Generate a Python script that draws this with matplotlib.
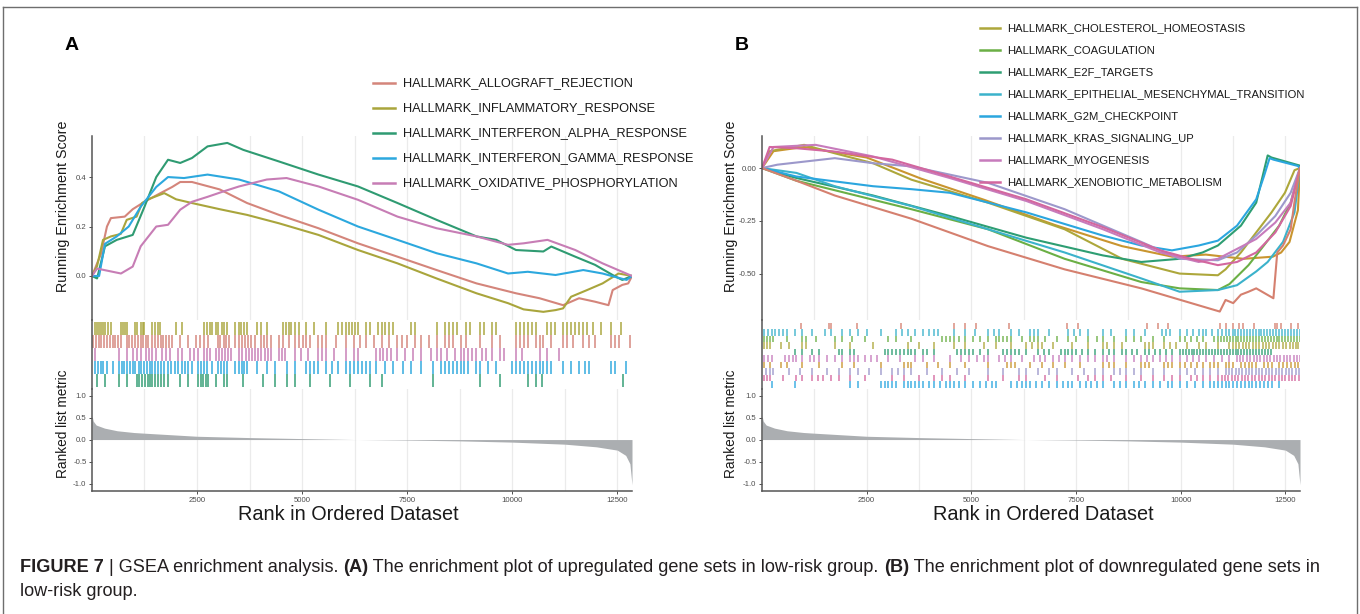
import matplotlib
matplotlib.use("Agg")
import matplotlib.pyplot as plt
from matplotlib.lines import Line2D
from matplotlib import font_manager as fm

W, H = 1360, 614
fig = plt.figure(figsize=(W / 100, H / 100), dpi=100)
plt.rcParams['font.family'] = ['Liberation Sans', 'DejaVu Sans']

# ---------------- data: panel A ----------------
A_names = ["HALLMARK_ALLOGRAFT_REJECTION", "HALLMARK_INFLAMMATORY_RESPONSE",
           "HALLMARK_INTERFERON_ALPHA_RESPONSE", "HALLMARK_INTERFERON_GAMMA_RESPONSE",
           "HALLMARK_OXIDATIVE_PHOSPHORYLATION"]
A_colors = ["#D4857B", "#A9A53C", "#2F9B72", "#2CA8DE", "#C77DB5"]

A_ALLO_rank = [1, 216, 357, 451, 780, 970, 1250, 1630, 1910, 2100, 2380, 3040, 3690, 4450, 5390, 6330,
               7270, 8200, 9150, 10090, 10650, 11210, 11400, 11590, 11970, 12290, 12390, 12620, 12760, 12850]
A_ALLO_es = [0, 0.09, 0.2, 0.234, 0.24, 0.27, 0.30, 0.335, 0.36, 0.38, 0.38, 0.35, 0.295, 0.247, 0.193, 0.132,
             0.078, 0.024, -0.03, -0.07, -0.09, -0.118, -0.104, -0.09, -0.104, -0.118, -0.057, -0.036, -0.03, 0]
A_INFL_rank = [1, 122, 263, 451, 686, 827, 1062, 1194, 1335, 1720, 2002, 2378, 3040, 3690, 4450, 5390, 6330,
               7270, 8200, 9150, 9900, 10270, 10740, 11030, 11210, 11400, 11780, 12150, 12340, 12530, 12850]
A_INFL_es = [0, 0.04, 0.146, 0.16, 0.17, 0.227, 0.24, 0.295, 0.31, 0.335, 0.31, 0.295, 0.27, 0.247, 0.213, 0.166,
             0.105, 0.051, -0.01, -0.07, -0.11, -0.135, -0.145, -0.138, -0.131, -0.084, -0.057, -0.03, -0.01, 0.01, 0]
A_ALPHA_rank = [1, 122, 310, 590, 970, 1250, 1530, 1810, 2100, 2380, 2750, 3220, 3600, 4450, 5390, 6330, 7270,
                8200, 9150, 9620, 10090, 10740, 10930, 11500, 11970, 12430, 12620, 12850]
A_ALPHA_es = [0, -0.01, 0.12, 0.146, 0.166, 0.28, 0.40, 0.47, 0.457, 0.477, 0.524, 0.538, 0.51, 0.463, 0.41,
              0.362, 0.295, 0.227, 0.16, 0.146, 0.105, 0.099, 0.119, 0.078, 0.045, 0.0, -0.016, 0]
A_GAMMA_rank = [1, 170, 310, 590, 875, 1160, 1530, 1810, 2190, 2750, 3500, 4450, 5390, 6330, 7270, 8200, 9150,
                9900, 10370, 11030, 11690, 12150, 12430, 12720, 12850]
A_GAMMA_es = [0, 0.0, 0.13, 0.16, 0.2, 0.28, 0.36, 0.40, 0.396, 0.41, 0.39, 0.342, 0.268, 0.2, 0.146, 0.092,
              0.051, 0.01, 0.017, 0.004, 0.024, 0.01, -0.003, -0.016, 0]
A_OXPHOS_rank = [1, 122, 690, 970, 1160, 1530, 1810, 2100, 2380, 2750, 3130, 3500, 4160, 4630, 5390, 6330, 7270,
                 8200, 9150, 9900, 10270, 10840, 11500, 12150, 12850]
A_OXPHOS_es = [0, 0.03, 0.01, 0.038, 0.12, 0.2, 0.207, 0.268, 0.30, 0.32, 0.342, 0.362, 0.39, 0.396, 0.362,
               0.308, 0.24, 0.193, 0.16, 0.126, 0.132, 0.146, 0.105, 0.051, 0]

A_INFL_hits = [75, 122, 169, 216, 263, 310, 385, 451, 686, 733, 780, 827, 1015, 1081, 1156, 1203, 1250, 1438, 1504,
               1579, 1626, 2002, 2143, 2660, 2735, 2801, 2867, 2942, 2989, 3083, 3149, 3224, 3412, 3487, 3553, 3619,
               3694, 3929, 4023, 4164, 4540, 4615, 4681, 4747, 4822, 4916, 5104, 5292, 5574, 5856, 5950, 6044, 6119,
               6185, 6251, 6326, 6514, 6608, 6796, 6890, 6984, 7078, 7172, 7595, 7689, 8206, 8394, 8488, 8582, 8676,
               8911, 9005, 9240, 9334, 9522, 9616, 10086, 10180, 10274, 10368, 10462, 10556, 10838, 10932, 11026,
               11214, 11308, 11402, 11496, 11590, 11684, 11778, 11919, 12107, 12342, 12577]
A_ALLO_hits = [28, 94, 160, 226, 291, 357, 423, 489, 555, 620, 686, 827, 893, 959, 1025, 1090, 1156, 1222, 1288,
               1344, 1438, 1504, 1570, 1636, 1701, 1767, 1833, 1908, 2096, 2284, 2472, 2566, 2660, 2754, 2989, 3055,
               3130, 3196, 3271, 3412, 3487, 3563, 3638, 3713, 3788, 3882, 4023, 4098, 4174, 4258, 4446, 4540, 4681,
               4822, 4916, 5010, 5104, 5198, 5386, 5480, 5574, 5809, 6044, 6232, 6373, 6514, 6702, 6890, 7078, 7266,
               7379, 7501, 7689, 7830, 8018, 8206, 8394, 8488, 8582, 8770, 8911, 9240, 9522, 9710, 10086, 10180,
               10274, 10368, 10556, 10650, 10744, 10932, 11214, 11308, 11449, 11684, 11825, 11966, 12342, 12436,
               12530, 12812]
A_OXPHOS_hits = [75, 639, 827, 968, 1062, 1156, 1297, 1363, 1438, 1532, 1673, 1767, 1861, 2049, 2143, 2331, 2425,
                 2519, 2660, 2735, 2801, 2942, 3017, 3093, 3168, 3243, 3318, 3506, 3581, 3657, 3732, 3807, 3882, 3957,
                 4033, 4108, 4183, 4258, 4446, 4521, 4587, 4822, 4963, 5151, 5386, 5480, 5574, 5762, 6044, 6232, 6326,
                 6749, 6843, 6937, 7031, 7125, 7266, 7454, 7642, 7830, 8065, 8206, 8300, 8441, 8629, 8770, 8864, 8958,
                 9052, 9146, 9287, 9381, 9522, 9710, 9804, 10086, 10227, 10650, 10838, 11120]
A_GAMMA_hits = [75, 141, 207, 263, 357, 498, 639, 705, 771, 837, 902, 968, 1015, 1109, 1175, 1241, 1307, 1372, 1438,
                1504, 1570, 1636, 1720, 1814, 1889, 1965, 2049, 2143, 2218, 2294, 2378, 2519, 2594, 2670, 2745, 2848,
                2989, 3064, 3140, 3224, 3412, 3487, 3563, 3628, 3694, 3929, 4164, 4352, 4634, 4822, 5104, 5198, 5292,
                5386, 5574, 5715, 5856, 6044, 6138, 6232, 6326, 6420, 6514, 6608, 6749, 6984, 7172, 7407, 7595, 7830,
                8112, 8300, 8394, 8488, 8582, 8676, 8770, 8864, 8958, 9146, 9240, 9428, 9616, 9992, 10086, 10180,
                10274, 10368, 10462, 10556, 10650, 10744, 10838, 10932, 11214, 11402, 11590, 11731, 11825, 12342,
                12436, 12718]
A_ALPHA_hits = [122, 310, 639, 827, 1062, 1128, 1194, 1260, 1325, 1391, 1438, 1504, 1570, 1636, 1720, 1814, 2096,
                2284, 2519, 2585, 2651, 2717, 2754, 2942, 3130, 3224, 3600, 4070, 4352, 4634, 4822, 5198, 5668, 6138,
                6608, 6890, 8112, 9240, 9710, 10368, 10556, 10697, 12624]

# ---------------- data: panel B ----------------
B_legend_names = ["HALLMARK_CHOLESTEROL_HOMEOSTASIS", "HALLMARK_COAGULATION", "HALLMARK_E2F_TARGETS",
                  "HALLMARK_EPITHELIAL_MESENCHYMAL_TRANSITION", "HALLMARK_G2M_CHECKPOINT",
                  "HALLMARK_KRAS_SIGNALING_UP", "HALLMARK_MYOGENESIS", "HALLMARK_XENOBIOTIC_METABOLISM"]
B_legend_colors = ["#ADA73B", "#6BAF45", "#2E9E73", "#3BB2CB", "#2BA6DF", "#9C98CB", "#C77BBC", "#D3679F"]
B_SET1_color = "#D5806F"
B_SET2_color = "#C9952F"

B_SET1_rank = [1, 824, 1739, 3569, 5399, 7229, 9059, 10934, 11072, 11255, 11438, 11621, 11804, 12215, 12307,
               12444, 12627, 12719, 12850]
B_SET1_es = [0, -0.06, -0.13, -0.24, -0.37, -0.48, -0.57, -0.68, -0.625, -0.64, -0.60, -0.586, -0.57, -0.617,
             -0.40, -0.367, -0.29, -0.16, 0]
B_SET2_rank = [1, 275, 1007, 2500, 3800, 5300, 7000, 8600, 9800, 10600, 11500, 12200, 12400, 12600, 12800, 12850]
B_SET2_es = [0, 0.08, 0.10, 0.05, -0.05, -0.15, -0.27, -0.37, -0.42, -0.41, -0.43, -0.42, -0.40, -0.35, -0.2, 0]
B_CHOL_rank = [1, 183, 1007, 1739, 2654, 3569, 5399, 7229, 8601, 9974, 10889, 11072, 11438, 11804, 12170, 12490,
               12719, 12850]
B_CHOL_es = [0, 0.08, 0.11, 0.07, 0.023, -0.055, -0.164, -0.29, -0.43, -0.50, -0.508, -0.48, -0.40, -0.305,
             -0.21, -0.117, -0.01, 0]
B_COAG_rank = [1, 824, 3569, 5399, 7229, 9059, 9974, 10889, 11163, 11621, 11987, 12353, 12627, 12850]
B_COAG_es = [0, -0.06, -0.195, -0.29, -0.43, -0.54, -0.57, -0.578, -0.55, -0.46, -0.367, -0.273, -0.164, 0]
B_E2F_rank = [1, 824, 2654, 4484, 6314, 8144, 9059, 9974, 10523, 10889, 11438, 11804, 12078, 12170, 12840, 12850]
B_E2F_es = [0, -0.047, -0.13, -0.227, -0.33, -0.414, -0.445, -0.43, -0.40, -0.367, -0.273, -0.164, 0.06, 0.05,
            0.012, 0]
B_EMT_rank = [1, 824, 1739, 3569, 5399, 7229, 9059, 9974, 10889, 11346, 11804, 12078, 12444, 12719, 12850]
B_EMT_es = [0, -0.023, -0.086, -0.18, -0.29, -0.40, -0.523, -0.586, -0.578, -0.555, -0.49, -0.445, -0.35, -0.21, 0]
B_G2M_rank = [1, 824, 2654, 3569, 4484, 6314, 8144, 9059, 9791, 10431, 10889, 11346, 11804, 11987, 12124, 12215,
              12800, 12850]
B_G2M_es = [0, -0.04, -0.086, -0.1, -0.117, -0.21, -0.32, -0.367, -0.39, -0.367, -0.344, -0.273, -0.148, -0.04,
            0.047, 0.04, 0.01, 0]
B_KRAS_rank = [1, 366, 1739, 2654, 3569, 5399, 7229, 9059, 9974, 10889, 11346, 11804, 12261, 12627, 12850]
B_KRAS_es = [0, 0.016, 0.047, 0.023, 0.008, -0.07, -0.195, -0.35, -0.43, -0.437, -0.40, -0.32, -0.227, -0.117, 0]
B_MYO_rank = [1, 275, 1281, 2654, 4484, 6314, 8144, 9516, 10431, 10889, 11346, 11804, 12261, 12627, 12850]
B_MYO_es = [0, 0.10, 0.11, 0.055, -0.047, -0.156, -0.29, -0.40, -0.445, -0.43, -0.383, -0.336, -0.258, -0.164, 0]
B_XENO_rank = [1, 183, 824, 1739, 3111, 4484, 6314, 8144, 9516, 10248, 10889, 11346, 11804, 12261, 12627, 12850]
B_XENO_es = [0, 0.10, 0.094, 0.078, 0.04, -0.04, -0.148, -0.28, -0.39, -0.43, -0.46, -0.445, -0.40, -0.305,
             -0.18, 0]

B_SET1_hits = [933, 1601, 1647, 2269, 3312, 4575, 4850, 5106, 5902, 7274, 7549, 9196, 9470, 9699, 10934, 11072,
               11255, 11392, 11483, 11758, 12243, 12307, 12398, 12627, 12810]
B_EMT_hits = [46, 137, 229, 320, 412, 503, 595, 778, 961, 1190, 1510, 1647, 1922, 2105, 2288, 2516, 2837, 3203,
              3340, 3477, 3660, 3843, 3980, 4118, 4209, 4575, 4850, 5078, 5399, 5536, 5673, 5948, 6131, 6405, 6497,
              6588, 6863, 7320, 7457, 7595, 7778, 8144, 8327, 8693, 8876, 9150, 9562, 9653, 9745, 9974, 10157, 10294,
              10431, 10523, 10614, 10751, 10889, 10980, 11072, 11163, 11255, 11300, 11370, 11440, 11510, 11580,
              11650, 11720, 11790, 11860, 11930, 12000, 12070, 12140, 12210, 12280, 12350, 12420, 12490, 12560,
              12630, 12700, 12770, 12840]
B_COAG_hits = [46, 110, 183, 275, 595, 961, 1052, 1281, 1739, 1922, 2150, 2471, 3020, 3203, 3569, 4301, 4392, 4484,
               4575, 4712, 4850, 5033, 5216, 5399, 5582, 5673, 5765, 5856, 5948, 6222, 6405, 6497, 6588, 6771, 7046,
               7320, 7503, 7778, 8006, 8144, 8418, 8693, 8876, 9059, 9333, 9608, 9974, 10111, 10248, 10385, 10523,
               10797, 10890, 10960, 11030, 11100, 11170, 11240, 11310, 11380, 11450, 11520, 11590, 11660, 11730,
               11800, 11870, 11940, 12010, 12080, 12150, 12220, 12290, 12360, 12430, 12500, 12570, 12640, 12710,
               12780, 12840]
B_CHOL_hits = [46, 110, 183, 458, 641, 961, 1052, 1739, 2105, 2654, 3477, 3752, 4118, 4575, 4850, 5307, 5582, 5948,
               6314, 6451, 6588, 6680, 6954, 7412, 7778, 8144, 8235, 8418, 8601, 9150, 9242, 9333, 9608, 9745, 9882,
               10157, 10431, 10614, 10889, 11163, 11240, 11320, 11400, 11480, 11560, 11640, 11720, 11800, 11880,
               11960, 12040, 12120, 12200, 12280, 12360, 12440, 12520, 12600, 12680, 12760, 12810]
B_E2F_hits = [778, 961, 1190, 1373, 1830, 1922, 2105, 2196, 2928, 3020, 3111, 3203, 3294, 3386, 3477, 3569, 3660,
              3843, 3935, 4118, 4667, 4758, 4850, 4941, 5033, 5216, 5399, 5765, 5856, 5948, 6039, 6131, 6314, 6588,
              6725, 6863, 7137, 7229, 7320, 7412, 7503, 7640, 7778, 7961, 8144, 8281, 8418, 8601, 8693, 8830, 8967,
              9150, 9242, 9379, 9516, 9653, 9791, 9974, 10050, 10120, 10190, 10260, 10330, 10400, 10470, 10540,
              10610, 10680, 10750, 10820, 10890, 10960, 11030, 11100, 11170, 11240, 11310, 11380, 11450, 11520,
              11590, 11660, 11730, 11800, 11870, 11940, 12010, 12080, 12150]
B_MYO_hits = [46, 137, 229, 549, 641, 732, 824, 961, 1144, 1235, 1373, 1556, 1739, 1922, 2105, 2196, 2288, 2471,
              2608, 2745, 3020, 3294, 3660, 3843, 4118, 4484, 4758, 4941, 5124, 5307, 5399, 5673, 5810, 5948, 6222,
              6497, 6634, 6771, 6954, 7092, 7229, 7412, 7595, 7778, 7961, 8144, 8235, 8418, 8693, 8876, 9059, 9196,
              9333, 9516, 9653, 9791, 9974, 10157, 10294, 10431, 10614, 10797, 10980, 11163, 11346, 11420, 11500,
              11580, 11660, 11740, 11820, 11900, 11980, 12060, 12140, 12220, 12300, 12380, 12460, 12540, 12620,
              12700, 12780, 12840]
B_SET2_hits = [46, 183, 458, 595, 961, 1373, 1922, 2196, 2837, 3386, 3477, 3569, 3935, 4209, 4484, 4850, 5399, 5856,
               5948, 6039, 6405, 6680, 6954, 7229, 7595, 8144, 8281, 8418, 8693, 9059, 9150, 9242, 9608, 9699, 9791,
               9974, 10111, 10248, 10385, 10523, 10706, 10797, 10889, 11072, 11163, 11255, 11438, 11530, 11621, 11713,
               11804, 11987, 12078, 12170, 12353, 12444, 12536, 12627, 12719, 12810]
B_KRAS_hits = [92, 183, 275, 641, 915, 1190, 1556, 1830, 2105, 2288, 2562, 2837, 3111, 3248, 3386, 3569, 3935, 4301,
               4667, 4941, 5399, 5765, 6131, 6314, 6588, 6863, 7046, 7412, 7686, 7961, 8144, 8418, 8555, 8693, 8876,
               9059, 9333, 9608, 9974, 10157, 10340, 10523, 10706, 10889, 11072, 11150, 11230, 11310, 11390, 11470,
               11550, 11630, 11710, 11790, 11870, 11950, 12030, 12110, 12190, 12270, 12350, 12430, 12510, 12590,
               12670, 12750, 12830]
B_XENO_hits = [46, 110, 183, 503, 824, 961, 1190, 1327, 1464, 1647, 1830, 2105, 2471, 3111, 3386, 3752, 4118, 4301,
               4484, 4850, 5399, 5765, 6131, 6314, 6771, 7046, 7549, 7778, 7961, 8144, 8327, 8693, 9059, 9333, 9608,
               9791, 9974, 10248, 10385, 10523, 10706, 10889, 10980, 11060, 11140, 11220, 11300, 11380, 11460, 11540,
               11620, 11700, 11780, 11860, 11940, 12020, 12100, 12180, 12260, 12340, 12420, 12500, 12580, 12660,
               12740, 12820]
B_G2M_hits = [229, 778, 2105, 2288, 2837, 2928, 3020, 3111, 3203, 3386, 3477, 3569, 3660, 3752, 3843, 3980, 4118,
              4255, 4392, 4484, 4575, 4712, 4850, 5033, 5216, 5353, 5490, 5582, 5948, 6085, 6222, 6314, 6405, 6542,
              6680, 6863, 7046, 7183, 7320, 7412, 7595, 7732, 7869, 8006, 8144, 8418, 8555, 8693, 8876, 9013, 9150,
              9333, 9516, 9699, 9791, 9974, 10157, 10340, 10523, 10706, 10797, 10889, 10980, 11072, 11163, 11255,
              11346, 11438, 11530, 11621, 11713, 11804, 11896, 11987, 12078, 12170, 12353]

# ranked list metric (shared)
metric_rank = [1, 30, 100, 300, 600, 1000, 1250, 2500, 3750, 5000, 6300, 7500, 8750, 10000, 11250, 12000, 12500,
               12700, 12800, 12850]
metric_val = [0.55, 0.42, 0.33, 0.26, 0.2, 0.16, 0.145, 0.075, 0.045, 0.022, 0.0, -0.012, -0.03, -0.058, -0.105,
              -0.165, -0.24, -0.36, -0.55, -1.03]

N_RANK = 12850
x_major = [2500, 5000, 7500, 10000, 12500]
x_minor = [1250, 3750, 6250, 8750, 11250]

# ---------------- helpers ----------------
def frac(x0, y0, x1, y1):
    return [x0 / W, 1 - y1 / H, (x1 - x0) / W, (y1 - y0) / H]

SPINE = "#555555"
TICKC = "#4D4D4D"
GRID = "#EBEBEB"


def style_axis(ax, show_x=False):
    for s in ["top", "right"]:
        ax.spines[s].set_visible(False)
    ax.spines["left"].set_color(SPINE)
    ax.spines["left"].set_linewidth(1.1)
    if show_x:
        ax.spines["bottom"].set_color(SPINE)
        ax.spines["bottom"].set_linewidth(1.1)
    else:
        ax.spines["bottom"].set_visible(False)
    ax.set_xlim(1, N_RANK)
    ax.set_xticks(x_major)
    ax.set_xticks(x_minor, minor=True)
    ax.grid(True, which="both", axis="x", color=GRID, linewidth=0.9)
    ax.set_axisbelow(True)
    ax.tick_params(axis="both", which="both", colors=TICKC, labelsize=5.6, length=2.5, width=0.7, pad=1.5)
    ax.tick_params(axis="x", which="minor", length=0)
    if not show_x:
        ax.tick_params(axis="x", which="both", length=0, labelbottom=False)
    ax.patch.set_alpha(0)


def panel(x0, x1, es_sets, es_ylim, es_yticks, es_yticklabels, hit_sets, row_top, row_h, hit_lw):
    es = fig.add_axes(frac(x0, 136, x1, 320))
    style_axis(es)
    for rank, val, col in es_sets:
        es.plot(rank, val, color=col, lw=1.5, solid_joinstyle="round")
    es.set_ylim(*es_ylim)
    es.set_yticks(es_yticks)
    es.set_yticklabels(es_yticklabels)

    hit = fig.add_axes(frac(x0, 320, x1, 389))
    for s in ["top", "right", "bottom"]:
        hit.spines[s].set_visible(False)
    hit.spines["left"].set_color(SPINE)
    hit.spines["left"].set_linewidth(1.1)
    hit.set_xlim(1, N_RANK)
    hit.set_xticks([])
    hit.set_yticks([])
    hit.set_ylim(389, 320)  # pixel-like row layout
    for i, (hr, col) in enumerate(hit_sets):
        top = row_top + i * row_h
        hit.vlines(hr, top, top + row_h, colors=col, lw=hit_lw, alpha=0.85)
    hit.patch.set_alpha(0)

    met = fig.add_axes(frac(x0, 389, x1, 491))
    style_axis(met, show_x=True)
    met.fill_between(metric_rank, 0, metric_val, color="#ABAEB1", lw=0)
    met.set_ylim(-1.17, 1.15)
    met.set_yticks([1.0, 0.5, 0.0, -0.5, -1.0])
    met.set_yticklabels(["1.0", "0.5", "0.0", "-0.5", "-1.0"])
    met.set_xticklabels([str(v) for v in x_major])
    return es, hit, met


# ---------------- panel A ----------------
A_es_sets = [(A_ALLO_rank, A_ALLO_es, A_colors[0]), (A_INFL_rank, A_INFL_es, A_colors[1]),
             (A_ALPHA_rank, A_ALPHA_es, A_colors[2]), (A_GAMMA_rank, A_GAMMA_es, A_colors[3]),
             (A_OXPHOS_rank, A_OXPHOS_es, A_colors[4])]
A_hit_sets = [(A_INFL_hits, A_colors[1]), (A_ALLO_hits, A_colors[0]), (A_OXPHOS_hits, A_colors[4]),
              (A_GAMMA_hits, A_colors[3]), (A_ALPHA_hits, A_colors[2])]
panel(92, 632, A_es_sets, (-0.178, 0.566), [0.0, 0.2, 0.4], ["0.0", "0.2", "0.4"],
      A_hit_sets, 322, 13, 1.25)

# ---------------- panel B ----------------
Bc = B_legend_colors
B_es_sets = [(B_SET2_rank, B_SET2_es, B_SET2_color), (B_CHOL_rank, B_CHOL_es, Bc[0]),
             (B_COAG_rank, B_COAG_es, Bc[1]), (B_E2F_rank, B_E2F_es, Bc[2]),
             (B_EMT_rank, B_EMT_es, Bc[3]), (B_G2M_rank, B_G2M_es, Bc[4]),
             (B_KRAS_rank, B_KRAS_es, Bc[5]), (B_MYO_rank, B_MYO_es, Bc[6]),
             (B_XENO_rank, B_XENO_es, Bc[7]), (B_SET1_rank, B_SET1_es, B_SET1_color)]
B_hit_sets = [(B_SET1_hits, B_SET1_color), (B_EMT_hits, Bc[3]), (B_COAG_hits, Bc[1]), (B_CHOL_hits, Bc[0]),
              (B_E2F_hits, Bc[2]), (B_MYO_hits, Bc[6]), (B_SET2_hits, B_SET2_color), (B_KRAS_hits, Bc[5]),
              (B_XENO_hits, Bc[7]), (B_G2M_hits, Bc[4])]
panel(762, 1300, B_es_sets, (-0.72, 0.152), [0.0, -0.25, -0.5], ["0.00", "-0.25", "-0.50"],
      B_hit_sets, 323, 6.5, 1.15)

# ---------------- labels ----------------
def ftext(x, y, s, **kw):
    return fig.text(x / W, 1 - y / H, s, **kw)

TXT = "#1A1A1A"
ftext(72, 45, "A", fontsize=14, fontweight="bold", ha="center", va="center", color="black")
ftext(742, 45, "B", fontsize=14, fontweight="bold", ha="center", va="center", color="black")
for xc in (63, 731):
    ftext(xc, 206, "Running Enrichment Score", rotation=90, fontsize=10.3, ha="center", va="center", color=TXT)
    ftext(xc, 424, "Ranked list metric", rotation=90, fontsize=9.8, ha="center", va="center", color=TXT)
ftext(348, 515, "Rank in Ordered Dataset", fontsize=14.3, ha="center", va="center", color=TXT)
ftext(1043, 515, "Rank in Ordered Dataset", fontsize=14.3, ha="center", va="center", color=TXT)

# legends
for i, (nm, col) in enumerate(zip(A_names, A_colors)):
    y = 83 + 25 * i
    fig.add_artist(Line2D([373 / W, 395 / W], [1 - y / H, 1 - y / H], color=col, lw=1.8))
    ftext(403, y, nm, fontsize=9.2, ha="left", va="center", color=TXT)
for i, (nm, col) in enumerate(zip(B_legend_names, B_legend_colors)):
    y = 28 + 22 * i
    fig.add_artist(Line2D([980 / W, 1000 / W], [1 - y / H, 1 - y / H], color=col, lw=1.8))
    ftext(1007, y, nm, fontsize=8.1, ha="left", va="center", color=TXT)

# border
bc = "#6E6E6E"
fig.add_artist(Line2D([3 / W, 1357 / W], [1 - 6.5 / H, 1 - 6.5 / H], color=bc, lw=1.0))
fig.add_artist(Line2D([3 / W, 3 / W], [0, 1 - 6.5 / H], color=bc, lw=1.0))
fig.add_artist(Line2D([1357 / W, 1357 / W], [0, 1 - 6.5 / H], color=bc, lw=1.0))

# caption
try:
    fm.findfont(fm.FontProperties(family="Liberation Sans Narrow"), fallback_to_default=False)
    capfam = "Liberation Sans Narrow"
except Exception:
    capfam = "Liberation Sans"

renderer = fig.canvas.get_renderer()
line1 = [("FIGURE 7", True), (" | GSEA enrichment analysis. ", False), ("(A)", True),
         (" The enrichment plot of upregulated gene sets in low-risk group. ", False), ("(B)", True),
         (" The enrichment plot of downregulated gene sets in", False)]
line2 = [("low-risk group.", False)]


def piece_width(s, bold, size):
    w = "bold" if bold else "normal"
    t1 = fig.text(0, 0, "H" + s + "H", fontsize=size, fontweight=w, family=capfam)
    t2 = fig.text(0, 0, "HH", fontsize=size, fontweight=w, family=capfam)
    d = t1.get_window_extent(renderer).width - t2.get_window_extent(renderer).width
    t1.remove()
    t2.remove()
    return d


base = 12.0
tot = sum(piece_width(s, b, base) for s, b in line1)
cap_size = base * 1305.0 / tot


def draw_line(pieces, x0, y):
    x = x0
    for s, b in pieces:
        ftext(x, y, s, fontsize=cap_size, fontweight="bold" if b else "normal", family=capfam,
              ha="left", va="center", color="#231F20")
        x += piece_width(s, b, cap_size)


draw_line(line1, 20, 568)
draw_line(line2, 20, 592)

fig.savefig("out.png", dpi=100)
